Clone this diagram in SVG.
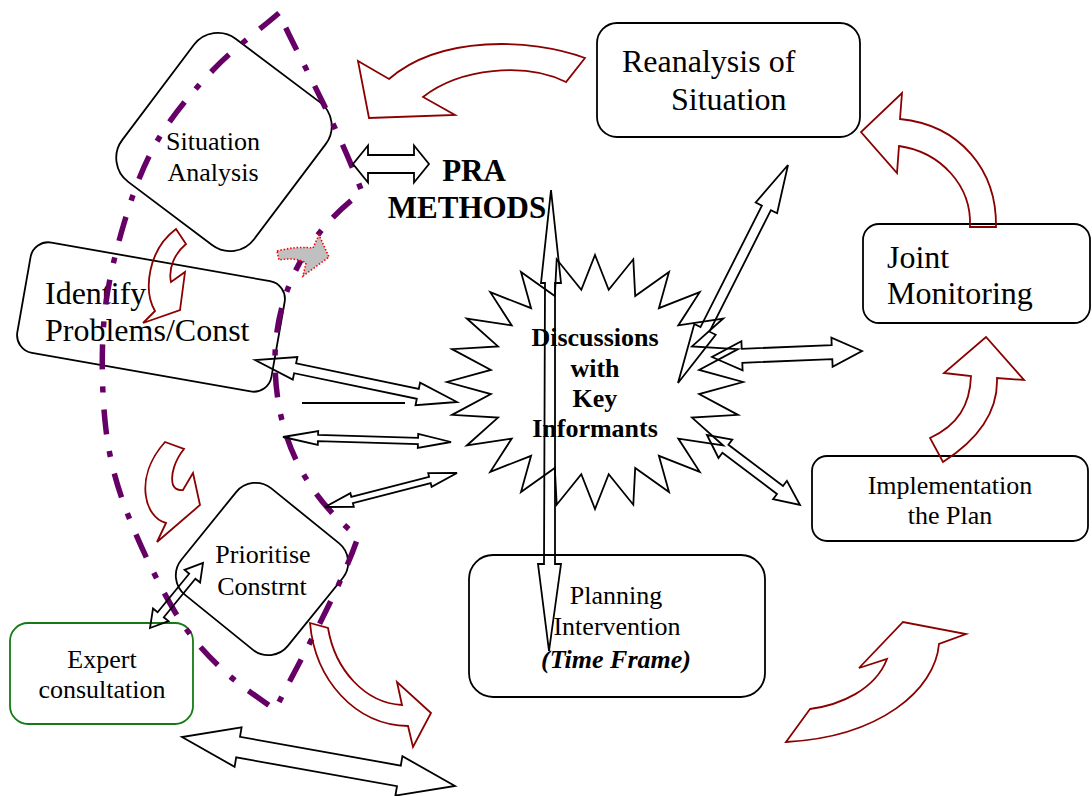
<svg xmlns="http://www.w3.org/2000/svg" width="1092" height="796" viewBox="0 0 1092 796">
  <defs>
    <style>
      .box { fill: #ffffff; stroke: #000000; stroke-width: 1.8; }
      .green { fill: #ffffff; stroke: #157a15; stroke-width: 1.8; }
      .t { font-family: "Liberation Serif", "Times New Roman", serif; fill: #000000; }
      .t26 { font-size: 26px; }
      .t32 { font-size: 32px; }
      .b { font-weight: bold; }
      .mid { text-anchor: middle; }
      .blk { fill: none; stroke: #000000; stroke-width: 1.8; stroke-linejoin: miter; }
      .red { fill: none; stroke: #8b0000; stroke-width: 1.8; stroke-linejoin: miter; }
      .gray { fill: #c0c0c0; stroke: #ff0000; stroke-width: 1.6; stroke-dasharray: 1.5 1.8; }
      .zone { fill: none; stroke: #660066; stroke-width: 5.5; stroke-dasharray: 25 17 6 17; stroke-linecap: butt; }
    </style>
  </defs>
  <rect width="1092" height="796" fill="#ffffff"/>

  <!-- nodes -->
  <g id="situation-analysis">
    <rect class="box" x="-82.5" y="-89.5" width="165" height="179" rx="30" transform="translate(224,142) rotate(37)"/>
    <text class="t t26 mid" x="213" y="150">Situation</text>
    <text class="t t26 mid" x="213" y="181">Analysis</text>
  </g>

  <g id="identify-problems">
    <rect class="box" x="-129" y="-56" width="258" height="112" rx="18" transform="translate(151,317) rotate(10)"/>
    <text class="t t32" x="45" y="304">Identify</text>
    <text class="t t32" x="45" y="341">Problems/Const</text>
  </g>

  <g id="prioritise-constraint">
    <rect class="box" x="-68.5" y="-68.5" width="137" height="137" rx="25" transform="translate(262,569) rotate(39)"/>
    <text class="t t26 mid" x="263" y="563">Prioritise</text>
    <text class="t t26 mid" x="262" y="595">Constrnt</text>
  </g>

  <g id="expert-consultation">
    <rect class="green" x="10" y="623" width="183" height="101" rx="18"/>
    <text class="t t26 mid" x="102" y="668">Expert</text>
    <text class="t t26 mid" x="102" y="698">consultation</text>
  </g>

  <g id="reanalysis">
    <rect class="box" x="597" y="23" width="263" height="114" rx="20"/>
    <text class="t t32" x="622" y="72">Reanalysis of</text>
    <text class="t t32" x="671" y="110">Situation</text>
  </g>

  <g id="joint-monitoring">
    <rect class="box" x="863" y="224" width="227" height="99" rx="16"/>
    <text class="t t32" x="887" y="268">Joint</text>
    <text class="t t32" x="887" y="304">Monitoring</text>
  </g>

  <g id="implementation">
    <rect class="box" x="812" y="456" width="276" height="85" rx="15"/>
    <text class="t t26 mid" x="950" y="494">Implementation</text>
    <text class="t t26 mid" x="950" y="524">the Plan</text>
  </g>

  <g id="planning">
    <rect class="box" x="469" y="555" width="296" height="142" rx="24"/>
    <text class="t t26 mid" x="616" y="604">Planning</text>
    <text class="t t26 mid" x="617" y="635">Intervention</text>
    <text class="t t26 mid b" x="616" y="668" font-style="italic">(Time Frame)</text>
  </g>

  <g id="pra-methods">
    <text class="t b mid" x="474" y="181" font-size="31">PRA</text>
    <text class="t b mid" x="467" y="218" font-size="31">METHODS</text>
  </g>

  <g id="key-informants">
    <polygon class="box" points="595,255 608.7,289.8 633.3,259.3 635.2,296.1 669,272 658.9,308.2 699.7,292.2 678.3,325.4 723.2,318.5 692,346.4 738,349.1 699.1,369.9 743,382 699.1,394.1 738,414.9 692,417.6 723.2,445.5 678.3,438.6 699.7,471.8 658.9,455.8 669,492 635.2,467.9 633.3,504.7 608.7,474.2 595,509 581.3,474.2 556.7,504.7 554.8,467.9 521,492 531.1,455.8 490.3,471.8 511.7,438.6 466.8,445.5 498,417.6 452,414.9 490.9,394.1 447,382 490.9,369.9 452,349.1 498,346.4 466.8,318.5 511.7,325.4 490.3,292.2 531.1,308.2 521,272 554.8,296.1 556.7,259.3 581.3,289.8"/>
    <text class="t t26 mid b" x="595" y="346">Discussions</text>
    <text class="t t26 mid b" x="595" y="377">with</text>
    <text class="t t26 mid b" x="595" y="407">Key</text>
    <text class="t t26 mid b" x="595" y="437">Informants</text>
  </g>

  <!-- PRA boundary (dash-dot outline) -->
  <g id="pra-boundary">
    <path class="zone" d="M279,13 C257,32 233,49 213,70 C193,91 174,113 159,138 C144,163 134,190 125,220 C116,250 107,285 104,320 C101,355 102,397 106,430 C110,463 118,490 130,520 C142,550 160,587 175,612 C190,637 206,654 223,670 C240,686 258,697 275,710 C300,660 340,590 358,537 C300,490 275,430 275,360 C275,290 310,230 362,192 C335,120 295,50 279,13"/>
  </g>

  <!-- connectors -->
  <g id="connectors">
    <!-- curved cycle arrows -->
    <path class="red" d="M585,58 C530,38 440,35 389,79 L358,61 L369,118 L455,115 L423,97 C460,68 525,62 566,82 Z"/>
    <path class="red" d="M970,227 C972,185 940,152 899,146 L897,173 L861,132 L902,93 L900,119 C960,125 997,170 996,227 Z"/>
    <path class="red" d="M943,462 C985,435 998,405 997,378 L1024,380 L986,337 L944,373 L971,376 C970,405 958,425 930,438 Z"/>
    <path class="red" d="M786,742 L810,709 C840,705 875,690 887,659 L859,668 L903,622 L966,634 L939,644 C935,690 880,737 786,742 Z"/>
    <path class="red" d="M310,623 L328,628 C335,670 365,703 402,705 L397,682 L431,713 L413,747 L408,726 C355,725 315,680 310,623 Z"/>
    <path class="red" d="M176,229 L186,244 C175,253 168,268 171,282 L185,272 L180,310 L143,323 L155,311 C143,290 148,250 176,229 Z"/>
    <path class="red" d="M165,442 L184,449 C175,460 170,475 173,485 Q176,491 183,490 L193,473 L200,505 L157,542 L166,523 C145,518 133,478 165,442 Z"/>
    <path class="gray" d="M277,251 Q296,246 313,248 L319,235 L329,257 L303,276 L306,263 Q296,257 279,260 Z"/>

    <!-- double-headed block arrows -->
    <polygon class="blk" points="353,164 368,145.5 368,155 414,155 414,145.5 429,164 414,182.5 414,173 368,173 368,182.5"/>
    <polygon class="blk" points="551,190 561,283 555,283 555,564 561,564 549,651 538,564 544,564 545,283 541,283"/>
    <polygon class="blk" points="678,383 715.7,334.8 709.5,331.7 770.9,210.2 777.1,213.3 788,165 755.7,202.5 761.9,205.6 700.5,327.1 694.3,324"/>
    <polygon class="blk" points="712,357 742.6,370.3 742.3,362.8 832.3,359.2 832.6,366.7 862,351 831.4,337.7 831.7,345.2 741.7,348.8 741.4,341.3"/>
    <polygon class="blk" points="707,435 718.5,458 722.4,452.8 777,494 773.1,499.2 800,505 786.9,480.8 783,486 728.4,444.8 732.3,439.6"/>
    <polygon class="blk" points="255,360 292.8,379.6 294.1,373.2 416.8,398.8 415.5,405.2 457,402 420.1,382.6 418.8,389 296.1,363.4 297.4,357"/>
    <line class="blk" x1="302" y1="403" x2="405" y2="403"/>
    <polygon class="blk" points="283,437 317.8,445 317.9,441.2 417.9,444.2 417.8,448 451,442 418.2,434 418.1,437.8 318.1,434.8 318.2,431"/>
    <polygon class="blk" points="325,507 353.8,506.8 352.9,503.1 430.7,483.1 431.6,486.8 457,473 428.2,473.2 429.1,476.9 351.3,496.9 350.4,493.2"/>
    <polygon class="blk" points="150,628 168.5,621.1 163.8,617.3 195.4,578.7 200.1,582.5 203,563 184.6,569.9 189.2,573.7 157.6,612.3 153,608.5"/>
    <polygon class="blk" points="182,737 234.6,766.8 236.2,757.4 397,786.2 395.4,795.6 455,786 402.4,756.2 400.8,765.6 240,736.8 241.6,727.4"/>
  </g>
</svg>
